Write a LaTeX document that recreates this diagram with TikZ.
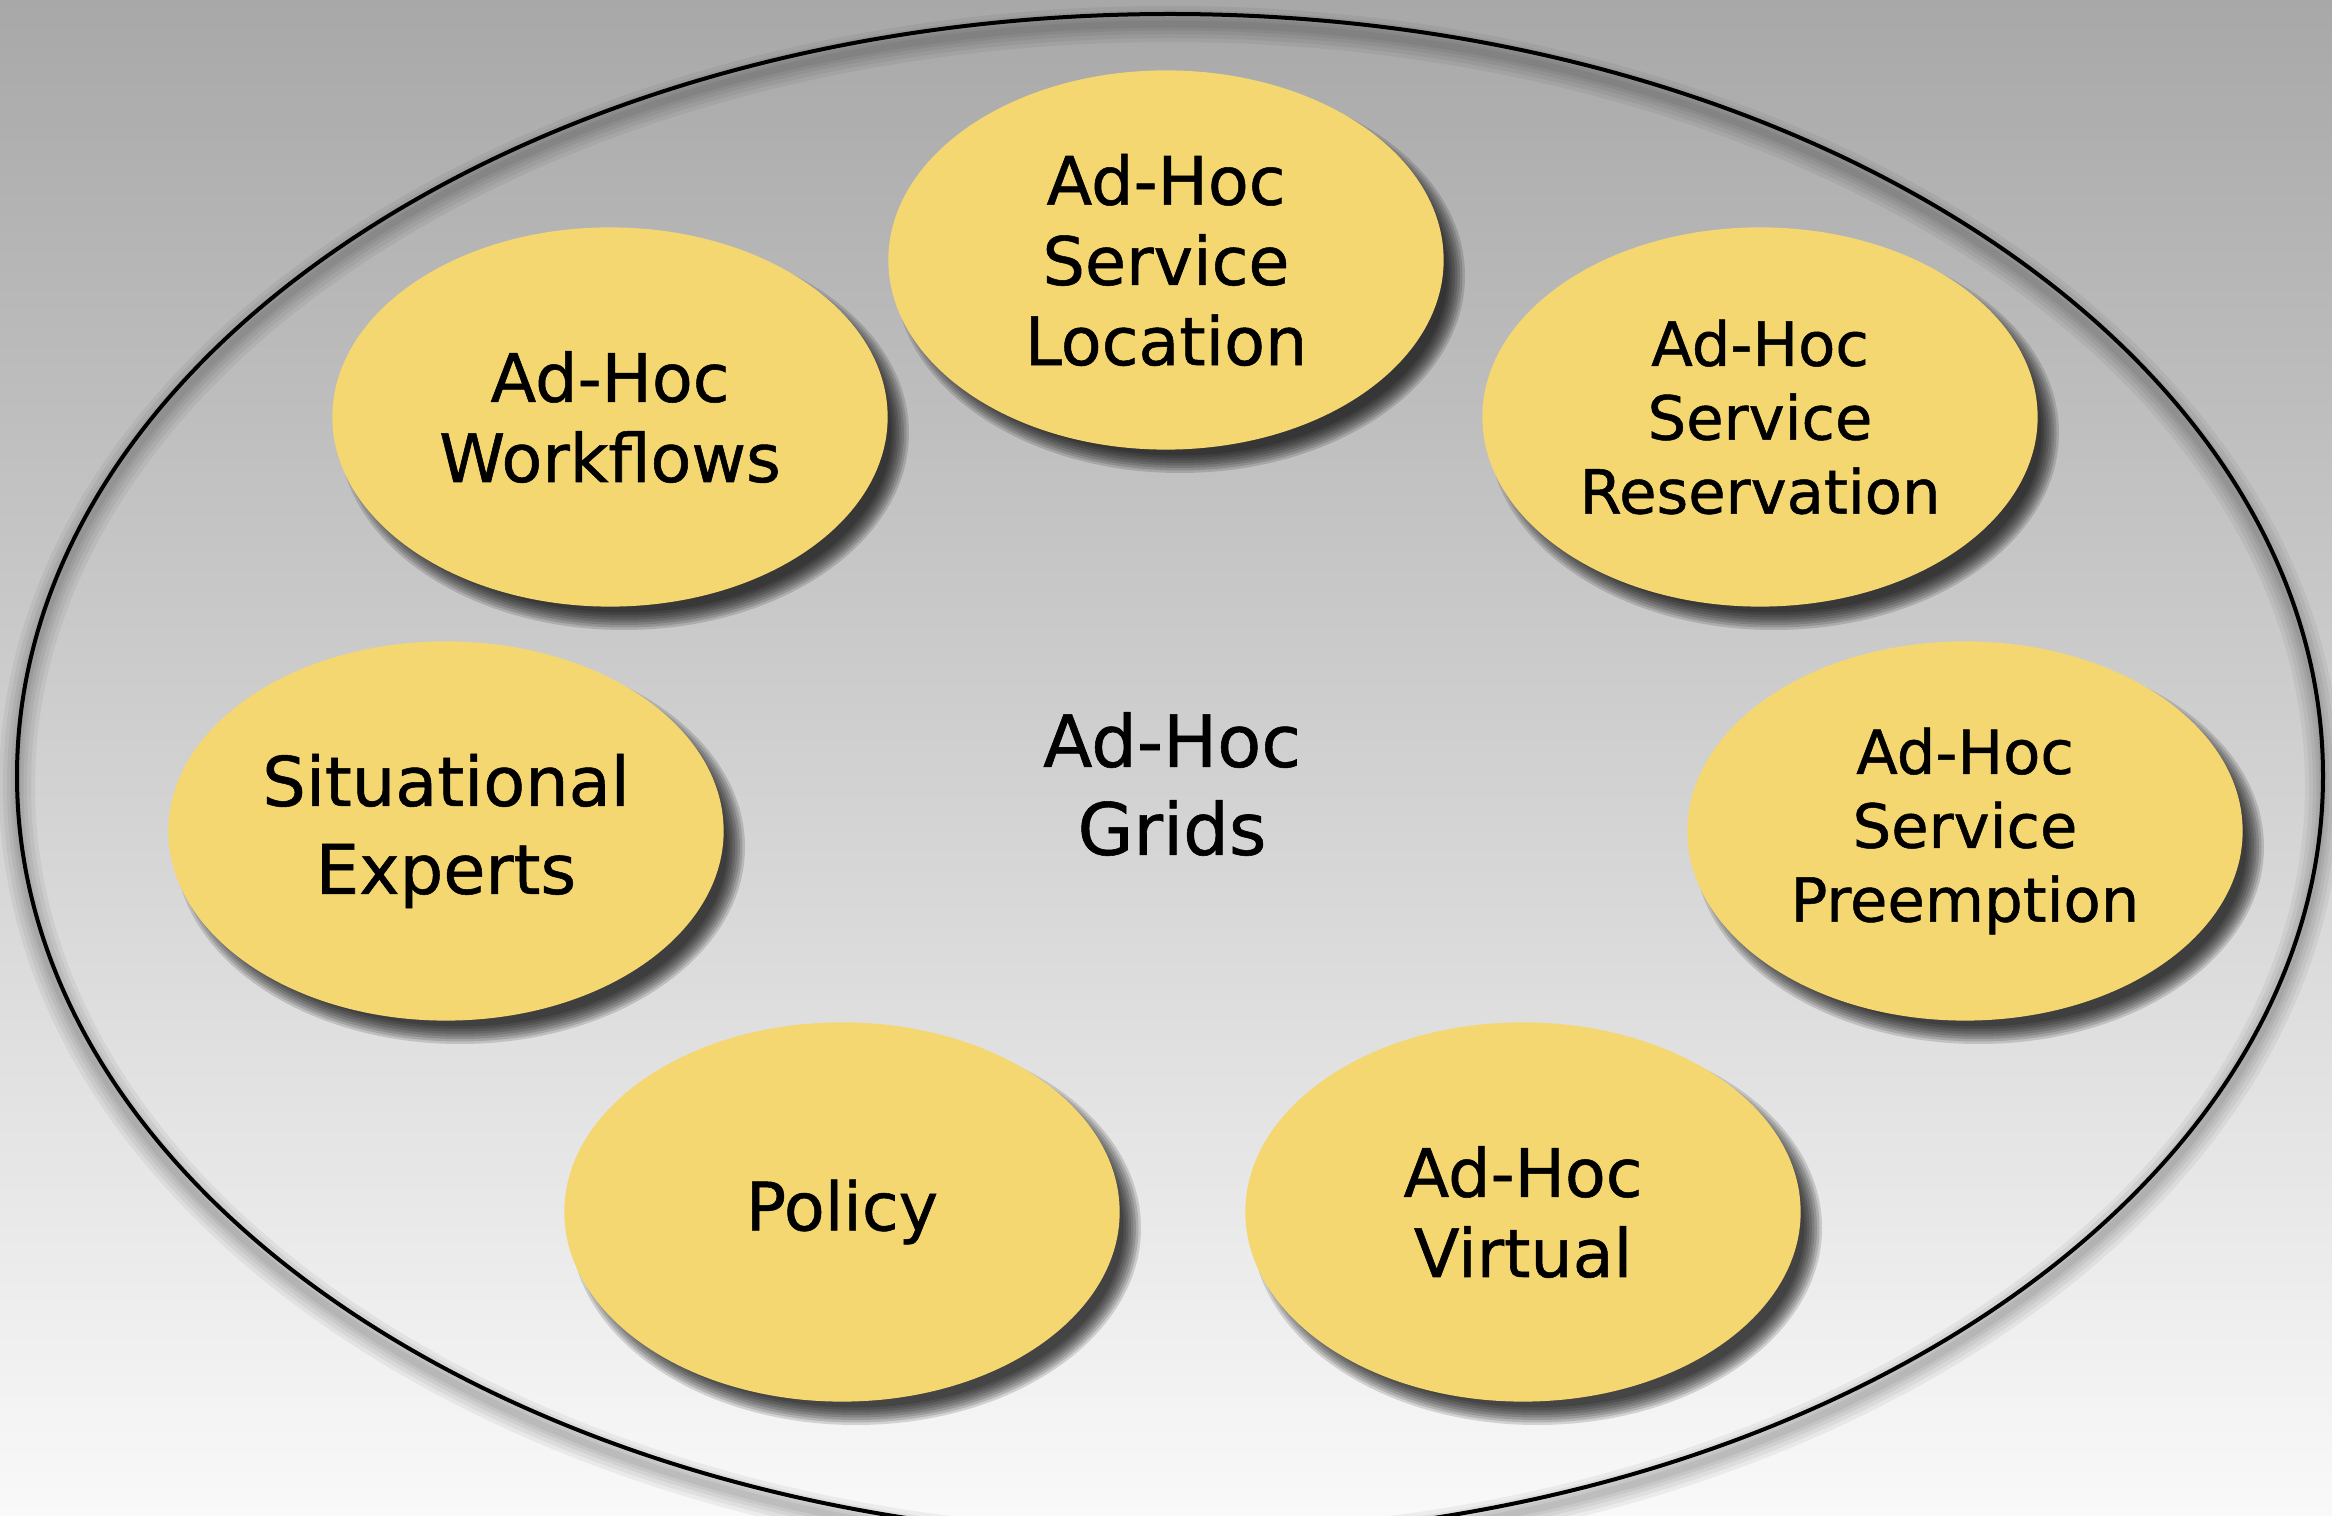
\documentclass[tikz,border=0pt]{standalone}
\usepackage{fontspec}
\setmainfont{DejaVu Sans}[FakeBold=0.8]
\usetikzlibrary{shapes.geometric}
\definecolor{bgtop}{RGB}{168,168,168}
\definecolor{bgbot}{RGB}{249,249,249}
\definecolor{blobfill}{RGB}{244,215,112}
\tikzset{
  blob/.style={ellipse, fill=blobfill, minimum width=5.55cm, minimum height=3.79cm,
    inner sep=0pt, align=center, text=black},
  bigtext/.style={font=\fontsize{19}{22.8}\selectfont},
  sittext/.style={font=\fontsize{19.5}{25}\selectfont},
  midtext/.style={font=\fontsize{17.3}{21}\selectfont},
  centertext/.style={font=\fontsize{20.5}{25}\selectfont, align=center}
}
\newcommand{\blobshadow}[2]{%
  \foreach \k in {1,...,8}{
    \fill[black, opacity=0.14] (#1+14,#2+16) ellipse ({277.5+10-2.5*\k} and {189.5+10-2.5*\k});
  }%
}
\begin{document}
\begin{tikzpicture}[x=0.01cm,y=-0.01cm]
\useasboundingbox (0,0) rectangle (2332,1516);
\shade[top color=bgtop, bottom color=bgbot] (0,0) rectangle (2332,1516);
% outer ellipse shadow
\foreach \w in {3.6mm,2.8mm,2.0mm,1.3mm,0.7mm}{
  \draw[black, opacity=0.05, line width=\w] (1170,786) ellipse (1153 and 762);
}
\draw[black, line width=0.4mm] (1170,776) ellipse (1153 and 762);
% shadows of the blobs
\blobshadow{1166}{260}
\blobshadow{610}{417}
\blobshadow{1760}{417}
\blobshadow{446}{831}
\blobshadow{1965}{831}
\blobshadow{842}{1212}
\blobshadow{1523}{1212}
% blobs
\node[blob, bigtext] (loc) at (1166,260) {Ad-Hoc\\Service\\Location};
\node[blob, bigtext] (wf) at (610,417) {Ad-Hoc\\Workflows};
\node[blob, midtext] (res) at (1760,417) {Ad-Hoc\\Service\\Reservation};
\node[blob, sittext] (sit) at (446,831) {Situational\\Experts};
\node[blob, midtext] (pre) at (1965,831) {Ad-Hoc\\Service\\Preemption};
\node[blob, bigtext] (pol) at (842,1212) {Policy};
\node[blob, bigtext] (vir) at (1523,1212) {Ad-Hoc\\Virtual};
\node[centertext] (grids) at (1172,784) {Ad-Hoc\\Grids};
\end{tikzpicture}
\end{document}
